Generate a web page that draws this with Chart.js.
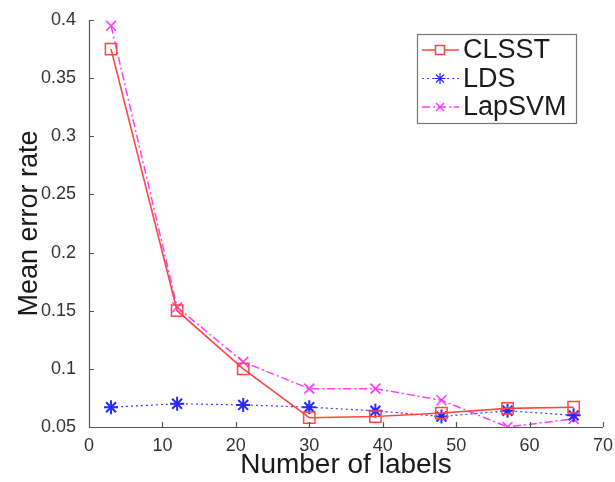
<!DOCTYPE html>
<html>
<head>
<meta charset="utf-8">
<script src="https://cdn.jsdelivr.net/npm/chart.js@4.4.1/dist/chart.umd.min.js"></script>
<style>
  html, body { margin: 0; padding: 0; background: #fff; }
  #wrap { width: 615px; height: 482px; }
</style>
</head>
<body>
<div id="wrap"><canvas id="chart"></canvas></div>
<script>
// number of labeled samples
const labelCounts = [3, 12, 21, 30, 39, 48, 57, 66];
const clsst = [0.375, 0.150, 0.100, 0.058, 0.059, 0.062, 0.066, 0.067];
const lds = [0.067, 0.070, 0.069, 0.067, 0.064, 0.059, 0.064, 0.060];
const lapsvm = [0.395, 0.153, 0.106, 0.083, 0.083, 0.073, 0.050, 0.057];
const xTicks = [0, 10, 20, 30, 40, 50, 60, 70];
const yTicks = [0.05, 0.1, 0.15, 0.2, 0.25, 0.3, 0.35, 0.4];

const FONT = '"Liberation Sans", Arial, Helvetica, sans-serif';

function toPoints(vals) {
    return labelCounts.map((x, i) => ({ x: x, y: vals[i] }));
}

// matlab style ticks pointing into the plot
const inwardTicks = {
    id: 'inwardTicks',
    afterDraw(chart) {
        const ctx = chart.ctx;
        const area = chart.chartArea;
        const xs = chart.scales.x, ys = chart.scales.y;
        ctx.save();
        ctx.strokeStyle = '#555';
        ctx.lineWidth = 1.2;
        ctx.beginPath();
        ctx.moveTo(area.left + 0.5, area.top);
        ctx.lineTo(area.left + 0.5, area.bottom + 0.5);
        ctx.lineTo(area.right, area.bottom + 0.5);
        xTicks.forEach(v => {
            const px = Math.round(xs.getPixelForValue(v)) + 0.5;
            ctx.moveTo(px, area.bottom);
            ctx.lineTo(px, area.bottom - 5);
        });
        yTicks.forEach(v => {
            const py = Math.round(ys.getPixelForValue(v)) + 0.5;
            ctx.moveTo(area.left, py);
            ctx.lineTo(area.left + 5, py);
        });
        ctx.stroke();
        ctx.restore();
    }
};

// legend box with line + marker samples
const boxLegend = {
    id: 'boxLegend',
    afterDraw(chart) {
        const ctx = chart.ctx;
        const left = 417, top = 34, w = 159, h = 89;
        ctx.save();
        ctx.fillStyle = '#fff';
        ctx.fillRect(left, top, w, h);
        ctx.strokeStyle = '#777';
        ctx.lineWidth = 1.2;
        ctx.strokeRect(left + 0.5, top + 0.5, w, h);
        chart.data.datasets.forEach((ds, i) => {
            const y = top + 16 + i * 28.5;
            ctx.strokeStyle = ds.borderColor;
            ctx.lineWidth = ds.borderWidth;
            ctx.setLineDash(ds.borderDash || []);
            ctx.beginPath();
            ctx.moveTo(left + 5, y);
            ctx.lineTo(left + 42, y);
            ctx.stroke();
            ctx.setLineDash([]);
            ctx.strokeStyle = ds.pointBorderColor;
            Chart.helpers.drawPoint(ctx, {
                pointStyle: ds.pointStyle,
                radius: ds.pointRadius * 0.8,
                borderWidth: ds.pointBorderWidth
            }, left + 23, y);
            ctx.fillStyle = '#1a1a1a';
            ctx.font = '27px ' + FONT;
            ctx.textBaseline = 'middle';
            ctx.fillText(ds.label, left + 46, y + 1);
        });
        ctx.restore();
    }
};

new Chart(document.getElementById('chart'), {
    type: 'scatter',
    data: {
        datasets: [
            {
                label: 'CLSST',
                data: toPoints(clsst),
                showLine: true,
                borderColor: 'rgb(255,70,70)',
                backgroundColor: 'rgba(0,0,0,0)',
                borderWidth: 1.6,
                pointStyle: 'rect',
                pointRadius: 8,
                pointBorderColor: 'rgb(255,70,70)',
                pointBorderWidth: 1.5
            },
            {
                label: 'LDS',
                data: toPoints(lds),
                showLine: true,
                borderColor: 'rgb(60,60,255)',
                backgroundColor: 'rgba(0,0,0,0)',
                borderWidth: 1.2,
                borderDash: [2, 3],
                pointStyle: 'star',
                pointRadius: 7,
                pointBorderColor: 'rgb(40,40,255)',
                pointBorderWidth: 2
            },
            {
                label: 'LapSVM',
                data: toPoints(lapsvm),
                showLine: true,
                borderColor: 'rgb(255,60,255)',
                backgroundColor: 'rgba(0,0,0,0)',
                borderWidth: 1.5,
                borderDash: [8, 3, 2, 3],
                pointStyle: 'crossRot',
                pointRadius: 7,
                pointBorderColor: 'rgb(255,60,255)',
                pointBorderWidth: 1.6
            }
        ]
    },
    options: {
        responsive: true,
        maintainAspectRatio: false,
        animation: false,
        layout: { padding: { top: 20, right: 12, left: 0, bottom: 0 } },
        plugins: {
            legend: { display: false },
            tooltip: { enabled: false }
        },
        scales: {
            x: {
                type: 'linear',
                min: 0,
                max: 70,
                afterBuildTicks: axis => { axis.ticks = xTicks.map(v => ({ value: v })); },
                grid: { display: false },
                border: { display: false },
                ticks: {
                    color: '#333',
                    font: { family: FONT, size: 18 },
                    padding: 0,
                    maxRotation: 0
                },
                title: {
                    display: true,
                    text: 'Number of labels',
                    color: '#1a1a1a',
                    font: { family: FONT, size: 28 },
                    padding: { top: 0, bottom: 0 }
                },
                afterFit: axis => { axis.height = 55; }
            },
            y: {
                type: 'linear',
                min: 0.05,
                max: 0.4,
                afterBuildTicks: axis => { axis.ticks = yTicks.map(v => ({ value: v })); },
                grid: { display: false },
                border: { display: false },
                ticks: {
                    color: '#333',
                    font: { family: FONT, size: 18 },
                    padding: 5,
                    callback: v => String(Math.round(v * 100) / 100)
                },
                title: {
                    display: true,
                    text: 'Mean error rate',
                    color: '#1a1a1a',
                    font: { family: FONT, size: 27 },
                    padding: { top: 13, bottom: 0 }
                },
                afterFit: axis => { axis.width = 89; }
            }
        }
    },
    plugins: [inwardTicks, boxLegend]
});
</script>
</body>
</html>
